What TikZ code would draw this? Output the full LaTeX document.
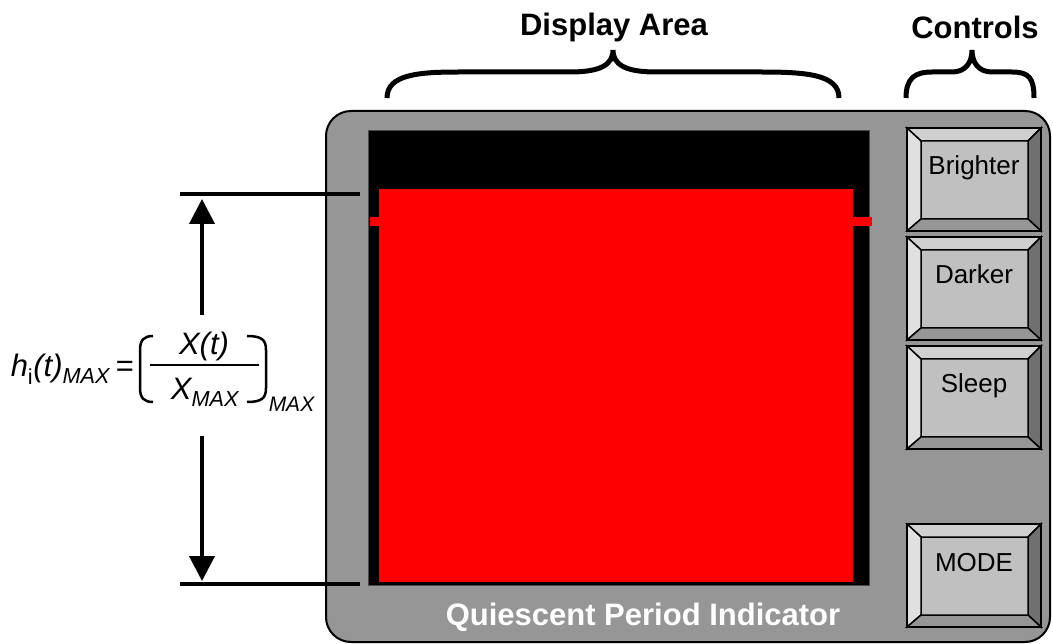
\documentclass[tikz,border=0pt]{standalone}
\usepackage{fontspec}
\setmainfont{Liberation Sans}
\usepackage{tikz}
\usetikzlibrary{positioning}
\usetikzlibrary{calc}
\usetikzlibrary{arrows.meta}
\definecolor{casegray}{RGB}{150,150,150}
\definecolor{facegray}{RGB}{192,192,192}
\definecolor{bevtop}{RGB}{208,208,208}
\definecolor{bevleft}{RGB}{224,224,224}
\definecolor{bevright}{RGB}{112,112,112}
\definecolor{bevbottom}{RGB}{150,150,150}
\tikzset{every picture/.style={x=1pt,y=-1pt,line width=1.5pt},
  button/.style={draw, fill=facegray, line width=2pt, minimum width=132pt, minimum height=101pt, inner sep=0pt,
    text height=19pt, text depth=28pt, font=\fontsize{26}{26}\selectfont},
  headlbl/.style={font=\fontsize{31}{31}\selectfont\bfseries},
  brace/.style={line width=5pt},
  dimline/.style={line width=4pt},
  formula/.style={font=\fontsize{31}{31}\selectfont\itshape, inner sep=0pt}}

\begin{document}
\begin{tikzpicture}
\useasboundingbox (0,0) rectangle (1053,644);
% case and display
\node (case) at (688,376.5) [draw, fill=casegray, rounded corners=25pt, minimum width=724pt, minimum height=531pt, line width=2pt] {};
\node (screen) at (618.5,358) [fill=black, draw=black!70, line width=1pt, minimum width=501pt, minimum height=454pt] {};
\node (bar) at (616,385.5) [fill=red, minimum width=474pt, minimum height=393pt, inner sep=0pt] {};
\node (tickl) at (374.5,221.5) [fill=red, minimum width=9pt, minimum height=9pt, inner sep=0pt] {};
\node (tickr) at (862.5,221.5) [fill=red, minimum width=19pt, minimum height=9pt, inner sep=0pt] {};
\node (qpi) at (643,617) [headlbl, text=white] {Quiescent Period Indicator};
% buttons
\node (bright) at (974,179.5) [button] {Brighter};
\node (dark) [below of=bright, node distance=109pt, button] {Darker};
\node (sleep) [below of=dark, node distance=109pt, button] {Sleep};
\node (mode) [below of=sleep, node distance=178pt, button] {MODE};
\foreach \b in {bright,dark,sleep,mode} {
  \coordinate (inw) at ($(\b.north west)+(14,13)$);
  \coordinate (ine) at ($(\b.north east)+(-13,13)$);
  \coordinate (ise) at ($(\b.south east)+(-13,-12)$);
  \coordinate (isw) at ($(\b.south west)+(14,-12)$);
  \filldraw[fill=bevtop] (\b.north west) -- (\b.north east) -- (ine) -- (inw) -- cycle;
  \filldraw[fill=bevleft] (\b.north west) -- (inw) -- (isw) -- (\b.south west) -- cycle;
  \filldraw[fill=bevright] (\b.north east) -- (\b.south east) -- (ise) -- (ine) -- cycle;
  \filldraw[fill=bevbottom] (\b.south west) -- (isw) -- (ise) -- (\b.south east) -- cycle;
  \draw[line width=2pt] (\b.north west) rectangle (\b.south east);
}
% headings and braces
\node (dalbl) at (614,27) [headlbl] {Display Area};
\node (ctlbl) at (975,27) [headlbl] {Controls};
\draw[brace] (387,98) .. controls (387,74) and (420,72) .. (460,72) -- (570,72)
  .. controls (600,72) and (613,65) .. (613,50) .. controls (613,65) and (626,72) .. (656,72)
  -- (760,72) .. controls (805,72) and (839,74) .. (839,98);
\draw[brace] (906,98) .. controls (906,78) and (915,72) .. (932,72) -- (952,72)
  .. controls (966,72) and (972,62) .. (972,50) .. controls (972,62) and (978,72) .. (992,72)
  -- (1012,72) .. controls (1029,72) and (1034,78) .. (1034,98);
% height dimension
\coordinate (tl) at (180,194);
\coordinate (tr) at (360,194);
\coordinate (bl) at (180,584);
\coordinate (br) at (360,584);
\coordinate (upt) at (202,315);
\coordinate (uph) at (202,199);
\coordinate (dnt) at (202,436);
\coordinate (dnh) at (202,581);
\draw[dimline] (tl) -- (tr);
\draw[dimline] (bl) -- (br);
\draw[dimline, -{Triangle[width=25pt,length=25pt]}] (upt) -- (uph);
\draw[dimline, -{Triangle[width=25pt,length=25pt]}] (dnt) -- (dnh);
% formula
\node (hmax) at (10,377) [formula, anchor=base west] {h\textsubscript{\upshape i}(t)\textsubscript{MAX}\,=};
\node (num) at (204,355) [formula, anchor=base] {X(t)};
\node (den) at (205,400) [formula, anchor=base] {X\textsubscript{MAX}};
\node (omax) at (268,412) [formula, anchor=base west, font=\fontsize{21}{21}\selectfont\itshape] {MAX};
\coordinate (fa) at (150,365);
\coordinate (fb) at (259,365);
\draw[line width=2pt] (fa) -- (fb);
\draw[line width=2.5pt] (153,336) .. controls (144,336) and (140,340) .. (140,350) -- (140,388)
  .. controls (140,398) and (144,402) .. (153,402);
\draw[line width=2.5pt] (247,336) .. controls (262,336) and (266,340) .. (266,350) -- (266,388)
  .. controls (266,398) and (262,402) .. (247,402);
\end{tikzpicture}
\end{document}
